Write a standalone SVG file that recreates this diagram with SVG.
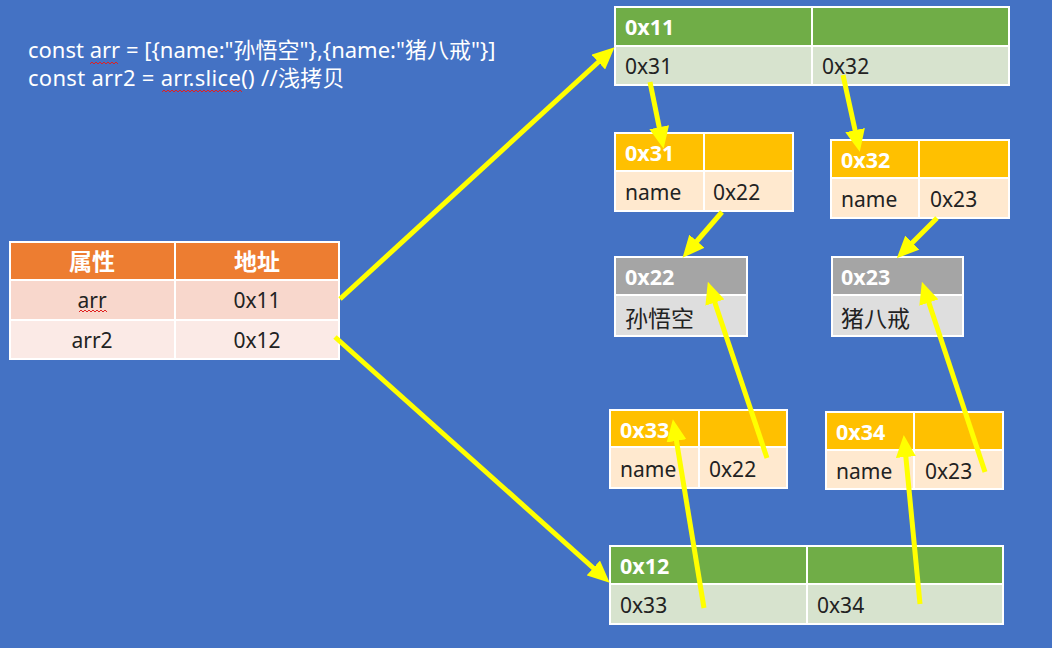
<svg xmlns="http://www.w3.org/2000/svg" width="1052" height="648" viewBox="0 0 1052 648">
<defs>
<style>
text{font-family:"Noto Sans","Noto Sans CJK SC",sans-serif;font-size:21px;fill:#222}
.h{fill:#fff;font-weight:bold;font-size:21.5px}
.cj{font-size:23px}
.code{fill:#fff;font-size:22px}
.c{text-anchor:middle}
.b{stroke:#fff;stroke-width:2}
.gH{fill:#70AD47}.gR{fill:#D7E3CE}
.yH{fill:#FFC000}.yR{fill:#FFE9CF}
.sH{fill:#A5A5A5}.sR{fill:#DEDEDE}
.oH{fill:#ED7D31}.o1{fill:#F8D7CC}.o2{fill:#FBEAE6}
.arr{stroke:#FFFF00;stroke-width:5;fill:none;marker-end:url(#ah)}
.wave{stroke:#E02020;stroke-width:1;fill:none}
</style>
<marker id="ah" viewBox="0 0 4.4 4" refX="1.8" refY="2" markerWidth="4.4" markerHeight="4" orient="auto" markerUnits="strokeWidth">
<path d="M0,0 L4.4,2 L0,4 z" fill="#FFFF00"/>
</marker>
</defs>
<rect width="1052" height="648" fill="#4472C4"/>

<g id="code">
<text class="code" x="28" y="58">const arr = [{name:"孙悟空"},{name:"猪八戒"}]</text>
<text class="code" x="28" y="86" letter-spacing="0.3">const arr2 = arr.slice() //浅拷贝</text>
</g>

<g id="table-vars">
<rect class="oH b" x="10" y="242" width="165" height="38"/>
<rect class="oH b" x="175" y="242" width="164" height="38"/>
<rect class="o1 b" x="10" y="280" width="165" height="40"/>
<rect class="o1 b" x="175" y="280" width="164" height="40"/>
<rect class="o2 b" x="10" y="320" width="165" height="39"/>
<rect class="o2 b" x="175" y="320" width="164" height="39"/>
<text class="h c cj" x="92" y="270">属性</text>
<text class="h c cj" x="257" y="270">地址</text>
<text class="c" x="92" y="308">arr</text>
<text class="c" x="257" y="308">0x11</text>
<text class="c" x="92" y="348">arr2</text>
<text class="c" x="257" y="348">0x12</text>
</g>

<g id="node-0x11">
<rect class="gH b" x="615" y="7" width="197" height="39"/>
<rect class="gH b" x="812" y="7" width="197" height="39"/>
<rect class="gR b" x="615" y="46" width="197" height="39"/>
<rect class="gR b" x="812" y="46" width="197" height="39"/>
<text class="h" x="625" y="35">0x11</text>
<text x="625" y="74">0x31</text>
<text x="822" y="74">0x32</text>
</g>

<g id="node-0x31">
<rect class="yH b" x="615" y="133" width="89" height="38"/>
<rect class="yH b" x="704" y="133" width="89" height="38"/>
<rect class="yR b" x="615" y="171" width="89" height="40"/>
<rect class="yR b" x="704" y="171" width="89" height="40"/>
<text class="h" x="625" y="161">0x31</text>
<text x="625" y="200">name</text>
<text x="713" y="200">0x22</text>
</g>

<g id="node-0x32">
<rect class="yH b" x="831" y="140" width="88" height="38"/>
<rect class="yH b" x="919" y="140" width="90" height="38"/>
<rect class="yR b" x="831" y="178" width="88" height="40"/>
<rect class="yR b" x="919" y="178" width="90" height="40"/>
<text class="h" x="841" y="168">0x32</text>
<text x="841" y="207">name</text>
<text x="930" y="207">0x23</text>
</g>

<g id="node-0x22">
<rect class="sH b" x="615" y="257" width="132" height="38"/>
<rect class="sR b" x="615" y="295" width="132" height="41"/>
<text class="h" x="625" y="285">0x22</text>
<text class="cj" x="625" y="327">孙悟空</text>
</g>

<g id="node-0x23">
<rect class="sH b" x="832" y="257" width="131" height="38"/>
<rect class="sR b" x="832" y="295" width="131" height="41"/>
<text class="h" x="841" y="285">0x23</text>
<text class="cj" x="841" y="327">猪八戒</text>
</g>

<g id="node-0x33">
<rect class="yH b" x="610" y="410" width="89" height="37"/>
<rect class="yH b" x="699" y="410" width="88" height="37"/>
<rect class="yR b" x="610" y="447" width="89" height="41"/>
<rect class="yR b" x="699" y="447" width="88" height="41"/>
<text class="h" x="620" y="438">0x33</text>
<text x="620" y="477">name</text>
<text x="709" y="477">0x22</text>
</g>

<g id="node-0x34">
<rect class="yH b" x="826" y="412" width="88" height="38"/>
<rect class="yH b" x="914" y="412" width="89" height="38"/>
<rect class="yR b" x="826" y="450" width="88" height="39"/>
<rect class="yR b" x="914" y="450" width="89" height="39"/>
<text class="h" x="836" y="440">0x34</text>
<text x="836" y="479">name</text>
<text x="925" y="479">0x23</text>
</g>

<g id="node-0x12">
<rect class="gH b" x="610" y="546" width="197" height="38"/>
<rect class="gH b" x="807" y="546" width="196" height="38"/>
<rect class="gR b" x="610" y="584" width="197" height="40"/>
<rect class="gR b" x="807" y="584" width="196" height="40"/>
<text class="h" x="620" y="574">0x12</text>
<text x="620" y="613">0x33</text>
<text x="817" y="613">0x34</text>
</g>

<g id="connectors">
<line class="arr" x1="340" y1="299" x2="605" y2="56"/>
<line class="arr" x1="335" y1="337" x2="600" y2="574"/>
<line class="arr" x1="650" y1="82" x2="661" y2="136"/>
<line class="arr" x1="843" y1="75" x2="857" y2="139"/>
<line class="arr" x1="722" y1="212" x2="691" y2="248"/>
<line class="arr" x1="937" y1="218" x2="906" y2="249"/>
<line class="arr" x1="767" y1="458" x2="712" y2="294"/>
<line class="arr" x1="985" y1="472" x2="926" y2="294"/>
<line class="arr" x1="704" y1="608" x2="675" y2="432"/>
<line class="arr" x1="920" y1="604" x2="905" y2="448"/>
</g>

<g id="spellcheck">
<path class="wave" d="M90,64 l2,-2 l2,2 l2,-2 l2,2 l2,-2 l2,2 l2,-2 l2,2 l2,-2 l2,2 l2,-2 l2,2 l2,-2 l2,2"/>
<path class="wave" d="M162,92 l2,-2 l2,2 l2,-2 l2,2 l2,-2 l2,2 l2,-2 l2,2 l2,-2 l2,2 l2,-2 l2,2 l2,-2 l2,2 l2,-2 l2,2 l2,-2 l2,2 l2,-2 l2,2 l2,-2 l2,2 l2,-2 l2,2 l2,-2 l2,2 l2,-2 l2,2 l2,-2 l2,2 l2,-2 l2,2 l2,-2 l2,2 l2,-2 l2,2 l2,-2 l2,2 l2,-2 l2,2"/>
<path class="wave" d="M79,312 l2,-2 l2,2 l2,-2 l2,2 l2,-2 l2,2 l2,-2 l2,2 l2,-2 l2,2 l2,-2 l2,2 l2,-2 l2,2"/>
</g>
</svg>
